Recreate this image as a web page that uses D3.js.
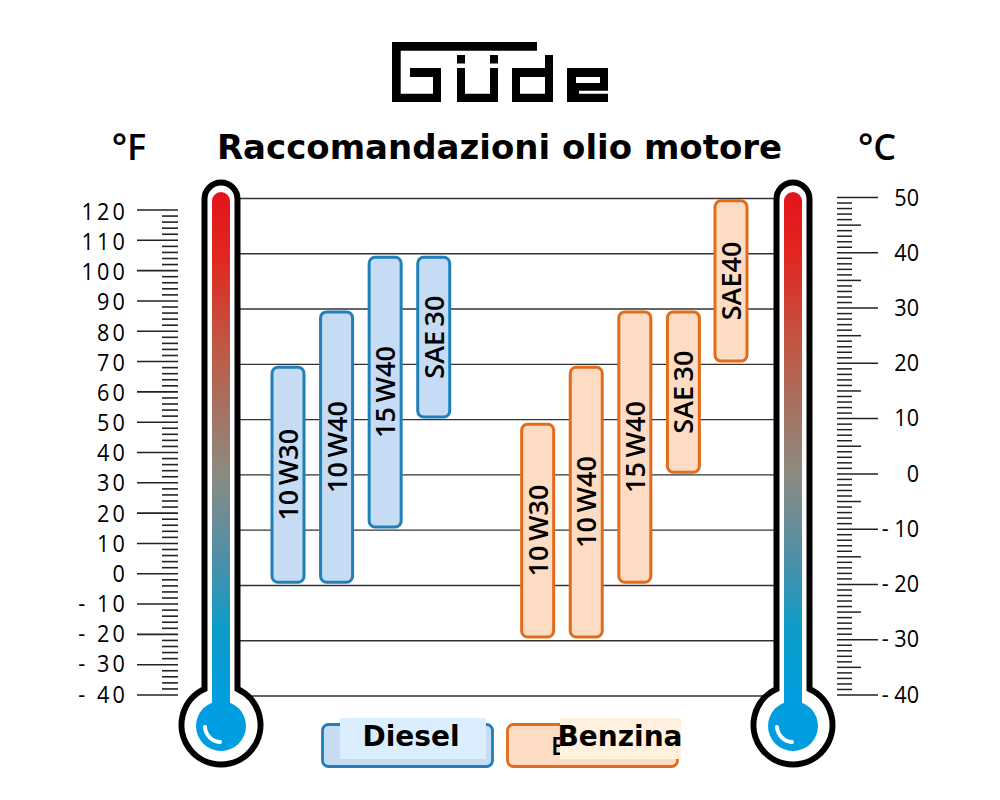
<!DOCTYPE html>
<html>
<head>
<meta charset="utf-8">
<script src="https://cdnjs.cloudflare.com/ajax/libs/d3/7.8.5/d3.min.js"></script>
<style>
html, body { margin: 0; padding: 0; background: #fff; }
svg { display: block; }
text { fill: #000; }
</style>
</head>
<body>
<svg id="chart" width="1000" height="800"></svg>
<script>
var titleText = "Raccomandazioni olio motore";
var fahrenheitTicks = [120, 110, 100, 90, 80, 70, 60, 50, 40, 30, 20, 10, 0, -10, -20, -30, -40];
var celsiusTicks = [50, 40, 30, 20, 10, 0, -10, -20, -30, -40];
var oilNames = ["10 W30", "10 W40", "15 W40", "SAE 30", "10 W30", "10 W40", "15 W40", "SAE 30", "SAE40"];
var oilGroups = ["Diesel", "Diesel", "Diesel", "Diesel", "Benzina", "Benzina", "Benzina", "Benzina", "Benzina"];
var oilLow = [-19.6, -19.6, -9.6, 10.3, -29.5, -29.5, -19.6, 0.3, 20.4];
var oilHigh = [19.3, 29.3, 39.2, 39.2, 9, 19.3, 29.3, 29.3, 49.4];
var slots = [0, 1, 2, 3, 5.14, 6.14, 7.14, 8.14, 9.12];

var svg = d3.select("#chart");
var defs = svg.append("defs");

var yC = d3.scaleLinear().domain([-40, 50]).range([695, 197.5]);
var yF = d3.scaleLinear().domain([-40, 120]).range([695, 210]);
var xBar = d3.scaleLinear().domain([0, 9.12]).range([288, 731]);
// tick labels drift a little against the ticks in the original
var yFLabel = d3.scaleLinear().domain([-40, 120]).range([702.5, 220]);
var yCLabel = d3.scaleLinear().domain([-40, 50]).range([702.5, 205.5]);

var colors = {
    Diesel: { fill: "#c6dcf5", stroke: "#1f7fb8" },
    Benzina: { fill: "#fddcc3", stroke: "#e06c1c" }
};

// logo
var logo = svg.append("g").attr("fill", "#000").attr("fill-rule", "evenodd");
logo.append("path").attr("d", "M392,42H537V50.7H400.7V93.7H433V77H410V68H441V102H392Z");
logo.append("path").attr("d", "M457,68H465V93.7H490V68H498V102H457Z");
logo.append("rect").attr("x", 457).attr("y", 55).attr("width", 8).attr("height", 8.5);
logo.append("rect").attr("x", 490).attr("y", 55).attr("width", 8).attr("height", 8.5);
logo.append("path").attr("d", "M545,55H553V102H512V68H545ZM520,77V93.7H545V77Z");
logo.append("path").attr("d", "M567,68H608V90.7H579V93.7H608V102H567ZM576,77V83H600V77Z");

svg.append("text").attr("x", 499.5).attr("y", 159)
    .attr("text-anchor", "middle")
    .style("font", "bold 34px 'DejaVu Sans'")
    .text(titleText);

svg.append("text").attr("x", 129).attr("y", 160).attr("text-anchor", "middle")
    .style("font", "600 36px 'Open Sans'").text("°F");
svg.append("text").attr("x", 877).attr("y", 160).attr("text-anchor", "middle")
    .style("font", "600 36px 'Open Sans'").text("°C");

// grid lines
svg.append("g").selectAll("line")
    .data(celsiusTicks)
    .enter().append("line")
    .attr("x1", 236).attr("x2", 778)
    .attr("y1", function(d) { return yC(d) + 1; })
    .attr("y2", function(d) { return yC(d) + 1; })
    .attr("stroke", "#333")
    .attr("stroke-width", 1.4);

// bars
var bars = svg.append("g").selectAll("g")
    .data(oilNames.map(function(name, i) { return i; }))
    .enter().append("g");

bars.append("rect")
    .attr("x", function(i) { return xBar(slots[i]) - 16; })
    .attr("width", 32)
    .attr("y", function(i) { return yC(oilHigh[i]); })
    .attr("height", function(i) { return yC(oilLow[i]) - yC(oilHigh[i]); })
    .attr("rx", 6)
    .attr("fill", function(i) { return colors[oilGroups[i]].fill; })
    .attr("stroke", function(i) { return colors[oilGroups[i]].stroke; })
    .attr("stroke-width", 3);

bars.append("text")
    .attr("transform", function(i) {
        var mid = (yC(oilHigh[i]) + yC(oilLow[i])) / 2;
        return "translate(" + (xBar(slots[i]) + 10) + "," + mid + ") rotate(-90)";
    })
    .attr("text-anchor", "middle")
    .style("font", "600 27px 'Open Sans'")
    .style("word-spacing", "-2.5px")
    .text(function(i) { return oilNames[i]; });

// thermometers
var grad = defs.append("linearGradient").attr("id", "mercury")
    .attr("gradientUnits", "userSpaceOnUse")
    .attr("x1", 0).attr("x2", 0).attr("y1", 192).attr("y2", 700);
[[0, "#e3141c"], [0.12, "#e1261f"], [0.32, "#bd5c48"], [0.55, "#8d8a80"], [0.72, "#4f8fa8"], [0.86, "#0d9cc8"], [1, "#009ee0"]]
    .forEach(function(s) {
        grad.append("stop").attr("offset", s[0]).attr("stop-color", s[1]);
    });

function thermometer(cx) {
    var g = svg.append("g").attr("transform", "translate(" + cx + ",0)");
    g.append("path")
        .attr("d", "M-16.5,689V199A16.5,16.5 0 0 1 16.5,199V689A39.5,39.5 0 1 1 -16.5,689Z")
        .attr("fill", "#fff")
        .attr("stroke", "#000")
        .attr("stroke-width", 6);
    g.append("path")
        .attr("d", "M-9,705V201A9,9 0 0 1 9,201V705Z")
        .attr("fill", "url(#mercury)");
    g.append("circle").attr("cy", 726).attr("r", 25).attr("fill", "#009ee0");
    g.append("path")
        .attr("d", "M-16,727A16,16 0 0 0 -1,742")
        .attr("fill", "none")
        .attr("stroke", "#fff")
        .attr("stroke-width", 4)
        .attr("stroke-linecap", "round");
}
thermometer(221);
thermometer(793);

// left scale
var leftMinor = d3.range(-40, 121, 2);
svg.append("g").selectAll("line")
    .data(leftMinor)
    .enter().append("line")
    .attr("x1", function(d) { return d % 10 === 0 ? 137 : 162; })
    .attr("x2", 178)
    .attr("y1", function(d) { return yF(d); })
    .attr("y2", function(d) { return yF(d); })
    .attr("stroke", "#222")
    .attr("stroke-width", 1.6);

svg.append("g").selectAll("text")
    .data(fahrenheitTicks)
    .enter().append("text")
    .attr("transform", function(d) { return "translate(128," + yFLabel(d) + ") scale(0.9,1)"; })
    .attr("text-anchor", "end")
    .style("font", "400 24px 'Open Sans'")
    .style("letter-spacing", "3.5px")
    .text(function(d) { return d < 0 ? "- " + (-d) : d; });

// right scale
var rightMinor = d3.range(-40, 51, 1);
svg.append("g").selectAll("line")
    .data(rightMinor)
    .enter().append("line")
    .attr("x1", 837)
    .attr("x2", function(d) { return d % 10 === 0 ? 878 : (d % 5 === 0 ? 861 : 852); })
    .attr("y1", function(d) { return yC(d); })
    .attr("y2", function(d) { return yC(d); })
    .attr("stroke", "#222")
    .attr("stroke-width", 1.5);

svg.append("g").selectAll("text")
    .data(celsiusTicks)
    .enter().append("text")
    .attr("transform", function(d) { return "translate(919," + yCLabel(d) + ") scale(0.9,1)"; })
    .attr("text-anchor", "end")
    .style("font", "400 24px 'Open Sans'")
    .text(function(d) { return d < 0 ? "- " + (-d) : d; });

// legend
function legendItem(name, x, w, patchX, patchW, patchFill, tx) {
    svg.append("rect").attr("x", x).attr("y", 724.5).attr("width", w).attr("height", 42)
        .attr("rx", 6)
        .attr("fill", colors[name].fill)
        .attr("stroke", colors[name].stroke)
        .attr("stroke-width", 2.8);
    if (name === "Benzina") {
        svg.append("text").attr("x", 551).attr("y", 755)
            .style("font", "600 25px 'Open Sans'").text("B");
    }
    svg.append("rect").attr("x", patchX).attr("y", 718).attr("width", patchW).attr("height", 41)
        .attr("fill", patchFill);
    svg.append("text").attr("x", tx).attr("y", 746)
        .attr("text-anchor", "middle")
        .style("font", "bold 28px 'DejaVu Sans'")
        .text(name);
}
legendItem("Diesel", 322.5, 170, 340, 146, "#dbeeff", 411);
legendItem("Benzina", 507.5, 170, 560, 121, "#fff1de", 620);
</script>
</body>
</html>
